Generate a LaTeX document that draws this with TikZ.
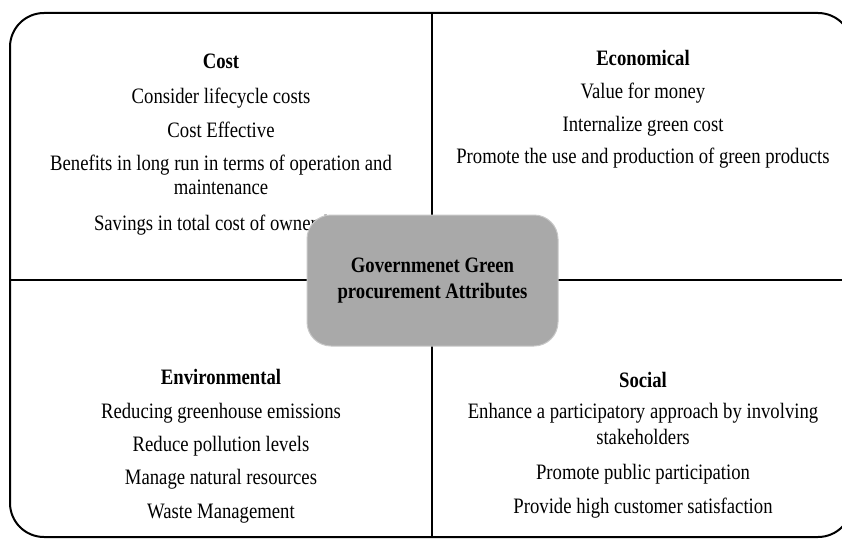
\documentclass[tikz,border=0pt]{standalone}
\usepackage{fontspec}
\setmainfont{Liberation Serif}[FakeStretch=0.85]
\definecolor{coregray}{HTML}{A9A9A9}
\definecolor{coreedge}{HTML}{C8C8C8}
\begin{document}
\begin{tikzpicture}[x=1pt,y=-1pt,
  itemtxt/.style={font=\fontsize{22}{26}\selectfont, inner sep=0pt, anchor=mid},
  titletxt/.style={itemtxt, font=\fontsize{22}{26}\selectfont\bfseries},
  frame/.style={line width=2pt, rounded corners=34pt},
  divider/.style={line width=2pt},
  corebox/.style={fill=coregray, draw=coreedge, line width=1pt, rounded corners=24pt,
    minimum width=251pt, minimum height=131pt, align=center,
    font=\fontsize{22}{26}\selectfont\bfseries, inner sep=0pt}]
\useasboundingbox (0,0) rectangle (842,543);
\fill[white] (0,0) rectangle (842,543);
% outer frame
\draw[frame] (10,13) rectangle (852,537);
% dividers
\coordinate (vtop) at (432,13);
\coordinate (vbot) at (432,537);
\coordinate (hleft) at (10,280);
\coordinate (hright) at (852,280);
\draw[divider] (vtop) -- (vbot);
\draw[divider] (hleft) -- (hright);
% Cost quadrant
\node[titletxt] (ct) at (221,66) {Cost};
\node[itemtxt] (c1) at (221,101) {Consider lifecycle costs};
\node[itemtxt] (c2) at (221,135) {Cost Effective};
\node[itemtxt] (c3) at (221,168) {Benefits in long run in terms of operation and};
\node[itemtxt] (c4) at (221,192) {maintenance};
\node[itemtxt] (c5) at (221,228) {Savings in total cost of ownership};
% Economical quadrant
\node[titletxt] (et) at (643,63) {Economical};
\node[itemtxt] (e1) at (643,96) {Value for money};
\node[itemtxt] (e2) at (643,129) {Internalize green cost};
\node[itemtxt] (e3) at (643,161) {Promote the use and production of green products};
% Environmental quadrant
\node[titletxt] (vt) at (221,382) {Environmental};
\node[itemtxt] (v1) at (221,416) {Reducing greenhouse emissions};
\node[itemtxt] (v2) at (221,449) {Reduce pollution levels};
\node[itemtxt] (v3) at (221,482) {Manage natural resources};
\node[itemtxt] (v4) at (221,516) {Waste Management};
% Social quadrant
\node[titletxt] (st) at (643,385) {Social};
\node[itemtxt] (s1) at (643,416) {Enhance a participatory approach by involving};
\node[itemtxt] (s2) at (643,442) {stakeholders};
\node[itemtxt] (s3) at (643,477) {Promote public participation};
\node[itemtxt] (s4) at (643,511) {Provide high customer satisfaction};
% central box
\node[corebox] (core) at (432.5,280.5) {Governmenet Green\\procurement Attributes};
\end{tikzpicture}
\end{document}
